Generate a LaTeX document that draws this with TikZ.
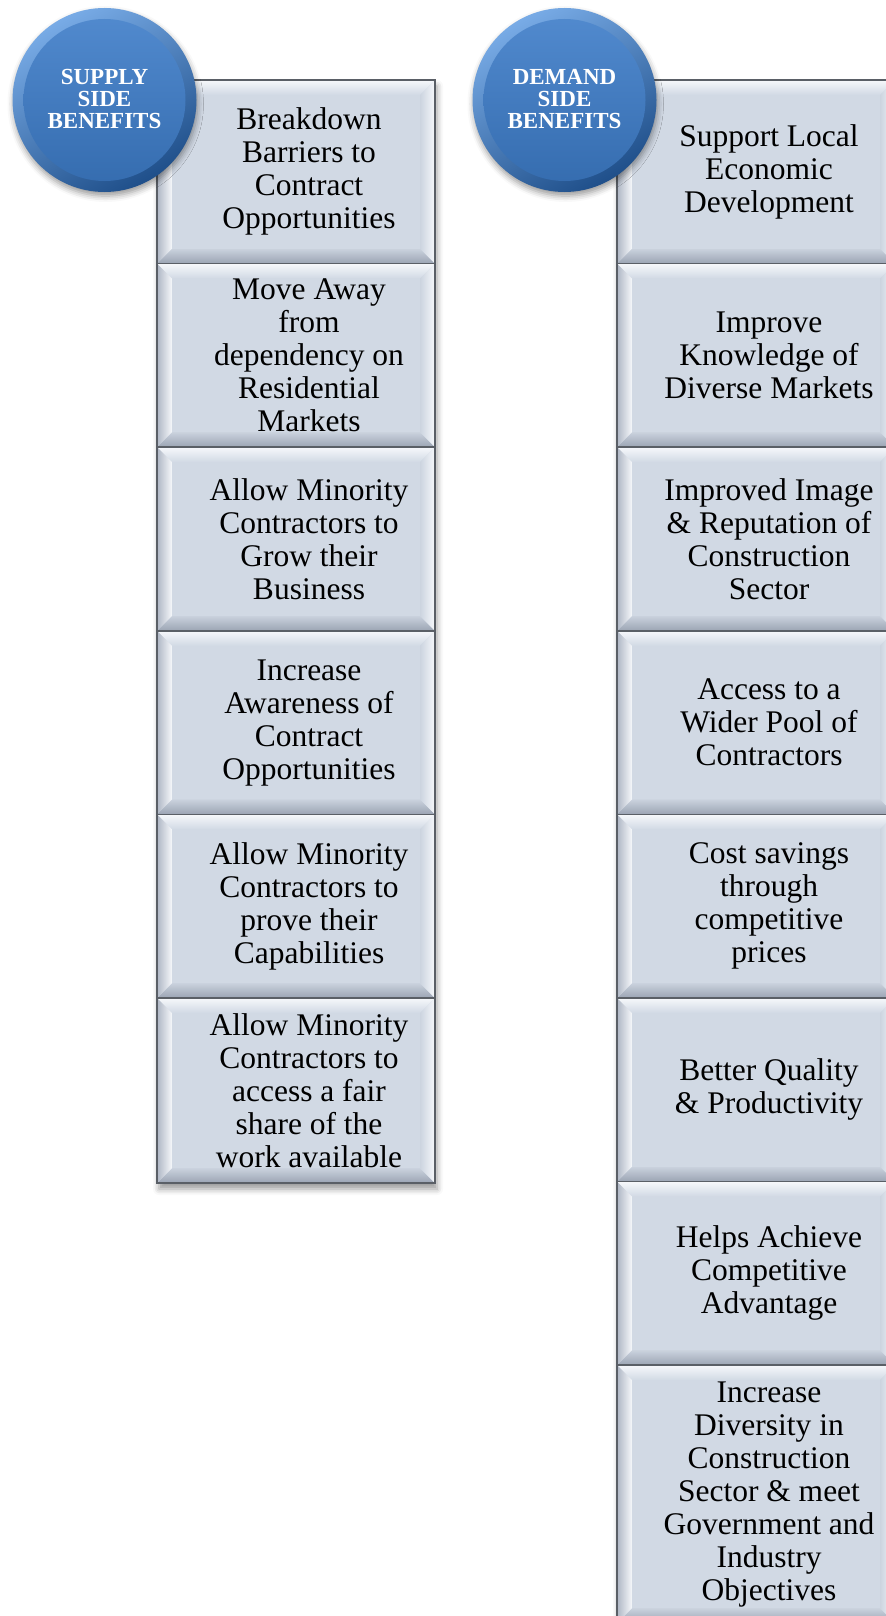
\documentclass[tikz,border=0pt]{standalone}
\usepackage{fontspec}
\setmainfont{Liberation Serif}
\usepackage{xcolor}
\definecolor{facegray}{HTML}{D1D9E4}
\definecolor{bevellight}{HTML}{F6F8FB}
\definecolor{bevelshade}{HTML}{AEB6C4}
\definecolor{beveldark}{HTML}{9BA4B3}
\definecolor{edgegray}{HTML}{5A5F66}
\definecolor{bubbleblue}{HTML}{3D7CC8}
\definecolor{bubblelight}{HTML}{78ABE6}
\definecolor{bubbledark}{HTML}{1F4F8A}
\usetikzlibrary{calc,shadows.blur}

\begin{document}
\begin{tikzpicture}[x=0.5pt, y=-0.5pt,
  benefit/.style={align=center, inner sep=0pt, font=\fontsize{15.75}{16.5}\selectfont},
  bubbletext/.style={align=center, inner sep=0pt, text=white, font=\fontsize{11.5}{11}\selectfont\bfseries}]
  \useasboundingbox (0,0) rectangle (886,1616);
  \clip (0,0) rectangle (886,1616);
  % Column shadows
  \foreach \cx/\cb in {157/1183, 617/1623}
    \fill[facegray, blur shadow={shadow xshift=1pt, shadow yshift=-3pt, shadow blur radius=3pt}]
      (\cx,80) rectangle (\cx+278,\cb);
  % Bevelled boxes: x / top / height / name / text
  \foreach \bx/\by/\bh/\bn/\btxt in {
    157/80/183.6/s1/{Breakdown\\Barriers to\\Contract\\Opportunities},
    157/263.6/183.6/s2/{Move Away\\from\\dependency on\\Residential\\Markets},
    157/447.2/183.6/s3/{Allow Minority\\Contractors to\\Grow their\\Business},
    157/630.8/183.6/s4/{Increase\\Awareness of\\Contract\\Opportunities},
    157/814.4/183.6/s5/{Allow Minority\\Contractors to\\prove their\\Capabilities},
    157/998/185/s6/{Allow Minority\\Contractors to\\access a fair\\share of the\\work available},
    617/80/183.6/d1/{Support Local\\Economic\\Development},
    617/263.6/183.6/d2/{Improve\\Knowledge of\\Diverse Markets},
    617/447.2/183.6/d3/{Improved Image\\\& Reputation of\\Construction\\Sector},
    617/630.8/183.6/d4/{Access to a\\Wider Pool of\\Contractors},
    617/814.4/183.6/d5/{Cost savings\\through\\competitive\\prices},
    617/998/183.6/d6/{Better Quality\\\& Productivity},
    617/1181.6/183.6/d7/{Helps Achieve\\Competitive\\Advantage},
    617/1365.2/258/d8/{Increase\\Diversity in\\Construction\\Sector \& meet\\Government and\\Industry\\Objectives}} {
    % top and bottom bevels
    \shade[top color=bevellight, bottom color=facegray]
      (\bx,\by) -- (\bx+278,\by) -- (\bx+263,\by+15) -- (\bx+15,\by+15) -- cycle;
    \shade[top color=facegray!80!bevelshade, bottom color=beveldark]
      (\bx,\by+\bh) -- (\bx+278,\by+\bh) -- (\bx+263,\by+\bh-15) -- (\bx+15,\by+\bh-15) -- cycle;
    % side bevels
    \shade[left color=bevelshade, right color=bevellight]
      (\bx,\by) -- (\bx+15,\by+15) -- (\bx+15,\by+\bh-15) -- (\bx,\by+\bh) -- cycle;
    \shade[left color=facegray!85!bevelshade, right color=bevellight]
      (\bx+278,\by) -- (\bx+263,\by+15) -- (\bx+263,\by+\bh-15) -- (\bx+278,\by+\bh) -- cycle;
    % face
    \fill[facegray] (\bx+15,\by+15) rectangle (\bx+263,\by+\bh-15);
    \draw[edgegray, line width=0.8pt] (\bx,\by) rectangle ++(278,\bh);
    \node[benefit] (\bn) at (\bx+152,\by+\bh/2) {\btxt};
  }
  % Title bubbles
  \foreach \cx/\cn/\ctxt in {104.5/supply/{SUPPLY\\SIDE\\BENEFITS}, 564.5/demand/{DEMAND\\SIDE\\BENEFITS}} {
    \shade[top color=bubblelight, bottom color=bubbledark, shading angle=30,
      blur shadow={shadow xshift=0.5pt, shadow yshift=-2pt, shadow blur radius=3pt}]
      (\cx,100) circle[radius=92];
    \shade[top color=bubbleblue!90!white, bottom color=bubbleblue!88!black] (\cx,100) circle[radius=81];
    \node[bubbletext] (\cn) at (\cx,99) {\ctxt};
  }
\end{tikzpicture}
\end{document}
